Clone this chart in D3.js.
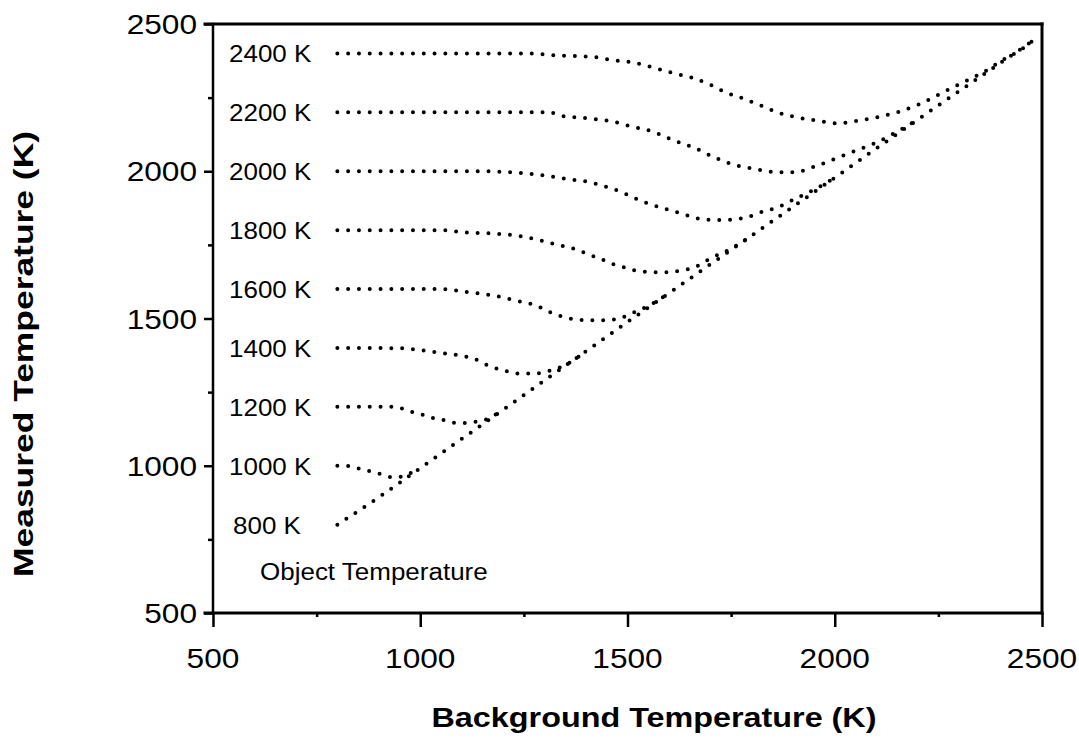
<!DOCTYPE html>
<html>
<head>
<meta charset="utf-8">
<script src="https://cdn.jsdelivr.net/npm/d3@7"></script>
<style>
  html, body { margin: 0; padding: 0; background: #fff; }
  svg { display: block; }
  text { font-family: "Liberation Sans", Arial, Helvetica, sans-serif; fill: #000; }
</style>
</head>
<body>
<svg id="chart" width="1079" height="742"></svg>
<script>
// ---- data ----
const xTicks = [500, 1000, 1500, 2000, 2500];
const yTicks = [500, 1000, 1500, 2000, 2500];
const minorTicks = [750, 1250, 1750, 2250];
const xTitle = "Background Temperature (K)";
const yTitle = "Measured Temperature (K)";
const noteText = "Object Temperature";

const objectTemps = [800, 1000, 1200, 1400, 1600, 1800, 2000, 2200, 2400];

// each series: [background K, measured K]; each curve ends where it joins the 800 K line
const curve800 = [[800,800],[900,893],[1000,992],[1100,1091],[1200,1190],[1300,1290],[1400,1389],[1500,1488],[1600,1586],[1700,1684],[1800,1782],[1900,1880],[2000,1978],[2100,2077],[2200,2175],[2300,2272],[2400,2368],[2483,2448]];
const curve1000 = [[800,1000],[826,999],[853,990],[879,981],[906,971],[932,961],[959,964],[980,978],[1000,992]];
const curve1200 = [[800,1200],[932,1200],[959,1193],[976,1184],[1002,1175],[1029,1163],[1056,1155],[1080,1146],[1106,1145],[1133,1149],[1152,1154],[1200,1190]];
const curve1400 = [[800,1400],[959,1399],[1002,1392],[1056,1382],[1106,1372],[1133,1362],[1152,1348],[1176,1334],[1203,1323],[1229,1314],[1256,1313],[1283,1314],[1309,1322],[1329,1330],[1353,1344],[1400,1389]];
const curve1600 = [[800,1600],[1050,1600],[1111,1590],[1181,1577],[1232,1560],[1283,1542],[1309,1524],[1355,1502],[1382,1496],[1420,1494],[1457,1495],[1483,1501],[1505,1514],[1529,1529],[1553,1545],[1600,1586]];
const curve1800 = [[800,1800],[1050,1800],[1100,1793],[1183,1788],[1234,1781],[1285,1767],[1331,1750],[1382,1732],[1406,1717],[1432,1705],[1459,1687],[1485,1677],[1505,1668],[1530,1660],[1582,1657],[1606,1658],[1633,1664],[1659,1672],[1684,1691],[1705,1708],[1729,1722],[1754,1741],[1800,1782]];
const curve2000 = [[800,2000],[1145,2000],[1235,1995],[1309,1984],[1358,1973],[1408,1963],[1435,1953],[1486,1929],[1531,1900],[1585,1875],[1633,1855],[1684,1836],[1729,1834],[1780,1841],[1831,1865],[1860,1876],[1901,1904],[1954,1940],[2000,1978]];
const curve2200 = [[800,2200],[1314,2200],[1333,2190],[1411,2179],[1464,2169],[1510,2152],[1560,2135],[1611,2105],[1659,2081],[1705,2050],[1756,2022],[1807,2008],[1860,1997],[1903,1997],[1957,2019],[2007,2046],[2053,2071],[2104,2100],[2155,2138],[2200,2175]];
const curve2400 = [[800,2400],[1260,2400],[1330,2393],[1411,2389],[1464,2377],[1510,2370],[1560,2353],[1611,2333],[1659,2316],[1705,2290],[1732,2271],[1783,2245],[1833,2217],[1860,2201],[1901,2185],[1954,2173],[2007,2163],[2056,2172],[2104,2184],[2155,2202],[2208,2230],[2256,2264],[2304,2298],[2357,2335],[2408,2380],[2457,2420],[2483,2450]];

const curves = [curve800, curve1000, curve1200, curve1400, curve1600, curve1800, curve2000, curve2200, curve2400];

// ---- drawing ----
const svg = d3.select("#chart");
const x = d3.scaleLinear().domain([500, 2500]).range([213, 1042]);
const y = d3.scaleLinear().domain([500, 2500]).range([613, 24]);
const SX = 1.13; // horizontal stretch of the original lettering

function stretchedText(g, tx, ty, str, size, anchor, weight) {
  return g.append("text")
    .attr("transform", `translate(${tx},${ty}) scale(${SX},1)`)
    .attr("text-anchor", anchor)
    .style("font-size", size + "px")
    .style("font-weight", weight || "normal")
    .text(str);
}

// axes: major + minor ticks
const gx = svg.append("g").attr("transform", `translate(0,${y(500)})`)
  .call(d3.axisBottom(x).tickValues(xTicks).tickSize(14).tickFormat(""));
const gxm = svg.append("g").attr("transform", `translate(0,${y(500)})`)
  .call(d3.axisBottom(x).tickValues(minorTicks).tickSize(4).tickFormat(""));
const gy = svg.append("g").attr("transform", `translate(${x(500)},0)`)
  .call(d3.axisLeft(y).tickValues(yTicks).tickSize(9).tickFormat(""));
const gym = svg.append("g").attr("transform", `translate(${x(500)},0)`)
  .call(d3.axisLeft(y).tickValues(minorTicks).tickSize(5).tickFormat(""));
[gx, gxm, gy, gym].forEach(g => {
  g.select(".domain").remove();
  g.selectAll(".tick line").attr("stroke", "#000").attr("stroke-width", 2.5);
});

// frame
const frame = svg.append("g").attr("stroke", "#000").attr("fill", "none").attr("stroke-linecap", "square");
frame.append("line").attr("x1", x(500)).attr("x2", x(500)).attr("y1", y(2500)).attr("y2", y(500)).attr("stroke-width", 2.5);
frame.append("line").attr("x1", x(500) - 8).attr("x2", x(2500)).attr("y1", y(500)).attr("y2", y(500)).attr("stroke-width", 3);
frame.append("line").attr("x1", x(500) - 8).attr("x2", x(2500)).attr("y1", y(2500)).attr("y2", y(2500)).attr("stroke-width", 3);
frame.append("line").attr("x1", x(2500)).attr("x2", x(2500)).attr("y1", y(2500)).attr("y2", y(500)).attr("stroke-width", 3);

// tick labels
const labels = svg.append("g");
xTicks.forEach(v => stretchedText(labels, x(v), 668, String(v), 28, "middle"));
yTicks.forEach(v => stretchedText(labels, 197, y(v) + 10, String(v), 28, "end"));

// titles
svg.append("text")
  .attr("x", 654).attr("y", 727)
  .attr("text-anchor", "middle")
  .attr("textLength", 445).attr("lengthAdjust", "spacingAndGlyphs")
  .style("font-size", "27px").style("font-weight", "bold")
  .text(xTitle);
svg.append("text")
  .attr("transform", `translate(33,354) rotate(-90)`)
  .attr("text-anchor", "middle")
  .attr("textLength", 446).attr("lengthAdjust", "spacingAndGlyphs")
  .style("font-size", "28px").style("font-weight", "bold")
  .text(yTitle);

// dotted curves
const line = d3.line().x(d => x(d[0])).y(d => y(d[1])).curve(d3.curveMonotoneX);
svg.append("g").selectAll("path").data(curves).join("path")
  .attr("d", line)
  .attr("fill", "none")
  .attr("stroke", "#000")
  .attr("stroke-width", 4)
  .attr("stroke-linecap", "round")
  .attr("stroke-dasharray", "0 10.8");

// curve labels
const cl = svg.append("g");
objectTemps.forEach(t => {
  const lx = t === 800 ? 233 : 229;
  stretchedText(cl, lx, y(t) + 9, t + " K", 23, "start");
});
stretchedText(cl, 260, 580, noteText, 23, "start");
</script>
</body>
</html>
